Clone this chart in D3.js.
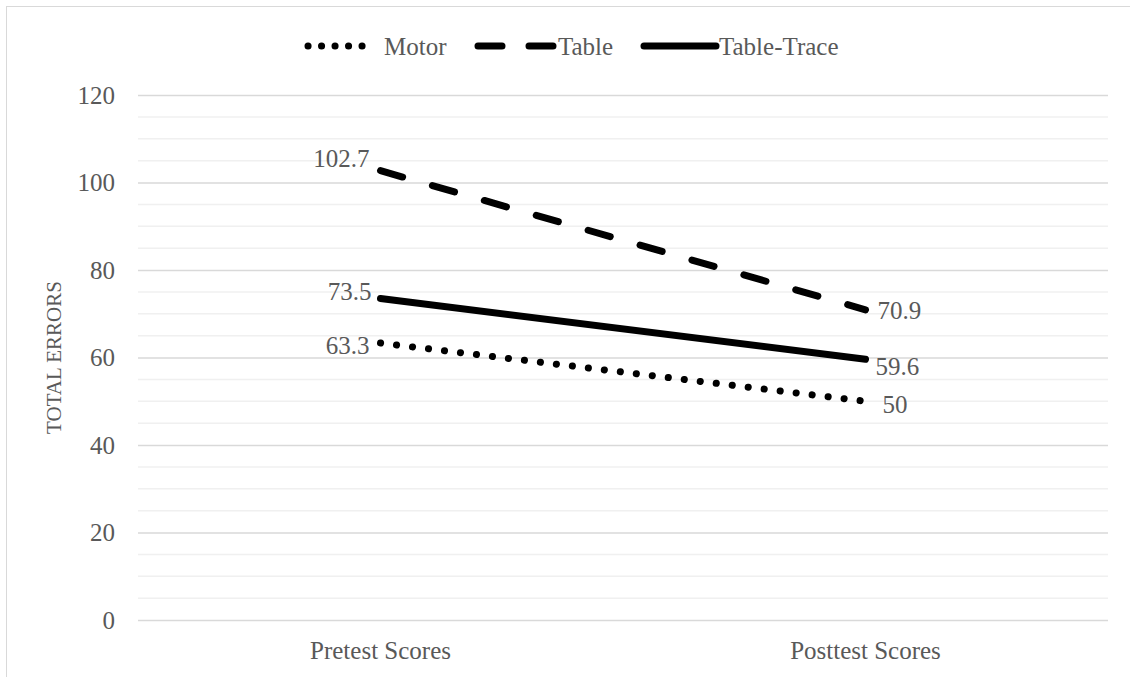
<!DOCTYPE html>
<html>
<head>
<meta charset="utf-8">
<script src="https://cdn.jsdelivr.net/npm/d3@7"></script>
<style>
  body { margin: 0; background: #fff; }
  text { font-family: "Liberation Serif", "Times New Roman", serif; fill: #595959; }
</style>
</head>
<body>
<div id="chart"></div>
<script>
// chart data
var categories = ["Pretest Scores", "Posttest Scores"];
var motor = [63.3, 50];
var table = [102.7, 70.9];
var tableTrace = [73.5, 59.6];
var yTicks = [0, 20, 40, 60, 80, 100, 120];

var series = [
  { name: "Motor", values: motor, dash: "0.1,16", labelDx: [-11, 17], labelDy: [2, 3] },
  { name: "Table", values: table, dash: "23,31", labelDx: [-11, 12], labelDy: [-12, 0] },
  { name: "Table-Trace", values: tableTrace, dash: null, labelDx: [-9, 10], labelDy: [-7, 7] }
];

var W = 1130, H = 677;
var margin = { top: 95, right: 22, bottom: 57, left: 138 };
var width = W - margin.left - margin.right;
var height = H - margin.top - margin.bottom;

var svgRoot = d3.select("#chart").append("svg")
    .attr("width", W)
    .attr("height", H);

// outer chart border
svgRoot.append("rect")
    .attr("x", 6.5).attr("y", 6.5)
    .attr("width", W + 10).attr("height", H + 10)
    .attr("fill", "none")
    .attr("stroke", "#d9d9d9");

var svg = svgRoot.append("g")
    .attr("transform", "translate(" + margin.left + "," + margin.top + ")");

var x = d3.scaleBand().domain(categories).range([0, width]);
var y = d3.scaleLinear().domain([0, 120]).range([height, 0]);

// minor gridlines every 5
svg.append("g")
  .selectAll("line")
  .data(d3.range(5, 120, 5).filter(function(v) { return v % 20 !== 0; }))
  .join("line")
    .attr("x1", 0).attr("x2", width)
    .attr("y1", function(d) { return y(d); })
    .attr("y2", function(d) { return y(d); })
    .attr("stroke", "#f0f0f0")
    .attr("stroke-width", 1.5);

// major gridlines + y axis labels
svg.append("g")
    .attr("class", "yaxis")
    .call(d3.axisLeft(y).tickValues(yTicks).tickSize(-width).tickPadding(23))
    .call(function(g) {
      g.select(".domain").remove();
      g.selectAll(".tick line").attr("stroke", "#d9d9d9").attr("stroke-width", 1.5);
      g.selectAll(".tick text").attr("font-size", 25).attr("fill", "#595959");
    });

// x axis labels
svg.append("g")
    .attr("class", "xaxis")
    .attr("transform", "translate(0," + height + ")")
    .call(d3.axisBottom(x).tickSize(0).tickPadding(21))
    .call(function(g) {
      g.select(".domain").remove();
      g.selectAll(".tick text").attr("font-size", 25).attr("fill", "#595959");
    });

// y axis title
svg.append("text")
    .attr("transform", "rotate(-90)")
    .attr("x", -y(60))
    .attr("y", -77)
    .attr("text-anchor", "middle")
    .attr("font-size", 21)
    .text("TOTAL ERRORS");

var line = d3.line()
    .x(function(d, i) { return x(categories[i]) + x.bandwidth() / 2; })
    .y(function(d) { return y(d); });

series.forEach(function(s) {
  svg.append("path")
      .datum(s.values)
      .attr("d", line)
      .attr("fill", "none")
      .attr("stroke", "#000")
      .attr("stroke-width", 7)
      .attr("stroke-linecap", "round")
      .attr("stroke-dasharray", s.dash);

  s.values.forEach(function(v, i) {
    svg.append("text")
        .attr("x", x(categories[i]) + x.bandwidth() / 2 + s.labelDx[i])
        .attr("y", y(v) + s.labelDy[i])
        .attr("dy", "0.35em")
        .attr("text-anchor", i === 0 ? "end" : "start")
        .attr("font-size", 25)
        .attr("fill", "#404040")
        .text(v);
  });
});

// legend
var legendItems = [
  { name: "Motor", x0: 308, x1: 375, dash: "0.1,13.4", tx: 384 },
  { name: "Table", x0: 478, x1: 558, dash: "24,27", tx: 558 },
  { name: "Table-Trace", x0: 644, x1: 716, dash: null, tx: 719 }
];
var legend = svgRoot.append("g").attr("transform", "translate(0,46)");
legendItems.forEach(function(l) {
  legend.append("line")
      .attr("x1", l.x0).attr("x2", l.x1)
      .attr("y1", 0).attr("y2", 0)
      .attr("stroke", "#000")
      .attr("stroke-width", 7)
      .attr("stroke-linecap", "round")
      .attr("stroke-dasharray", l.dash);
  legend.append("text")
      .attr("x", l.tx).attr("y", 0)
      .attr("dy", "0.35em")
      .attr("font-size", 25)
      .text(l.name);
});
</script>
</body>
</html>
